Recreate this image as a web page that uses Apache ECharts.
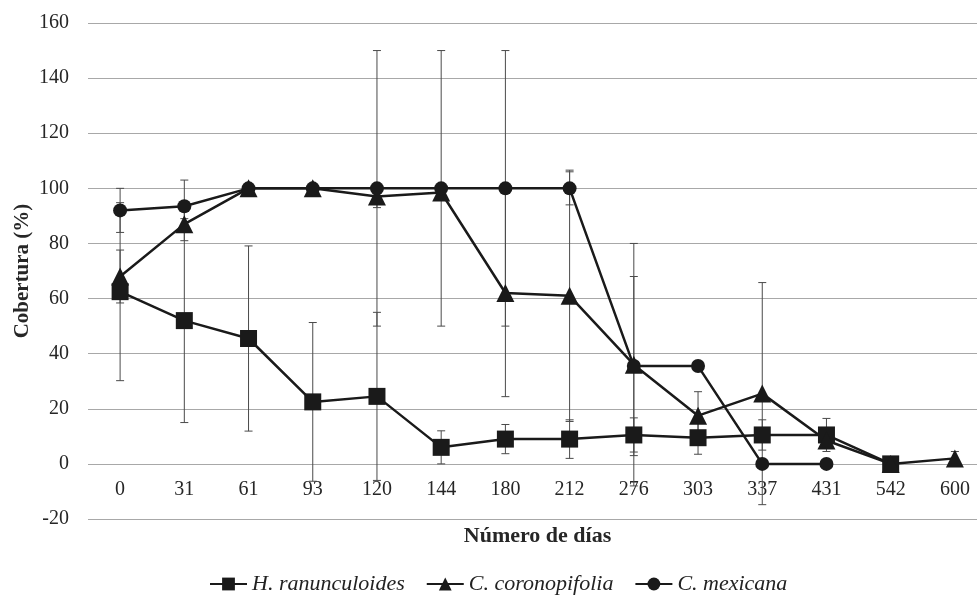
<!DOCTYPE html>
<html>
<head>
<meta charset="utf-8">
<script src="https://cdn.jsdelivr.net/npm/echarts@6/dist/echarts.min.js"></script>
<style>
html,body{margin:0;padding:0;background:#fff;}
#chart{width:977px;height:597px;}
</style>
</head>
<body>
<div id="chart"></div>
<script>
const days = ['0','31','61','93','120','144','180','212','276','303','337','431','542','600'];

const hName = 'H. ranunculoides';
const hMean = [62.5, 52, 45.5, 22.5, 24.5, 6, 9, 9, 10.5, 9.5, 10.5, 10.5, 0, null];
const hErr  = [32.3, 37, 33.6, 28.8, 30.5, 6, 5.3, 7, 6.2, 6, 5.5, 6, 0, null];

const cName = 'C. coronopifolia';
const cMean = [68, 87, 100, 100, 97, 98.5, 62, 61, 36, 17.5, 25.5, 8.5, 0, 2];
const cErr  = [9.6, 6, 0, 0, 4, 0, 37.6, 45.6, 44, 8.7, 40.3, 0, 0, 2.5];

const mName = 'C. mexicana';
const mMean = [92, 93.5, 100, 100, 100, 100, 100, 100, 35.5, 35.5, 0, 0, null, null];
const mErr  = [8, 9.5, 0, 0, 50, 50, 50, 6, 32.5, 0, 0, 0, null, null];

const yMin = -20, yMax = 160, yStep = 20;

const FONT = '"Liberation Serif", "Times New Roman", serif';
const INK = '#1a1a1a';

function errData(means, errs) {
  const out = [];
  means.forEach((m, i) => {
    if (m == null || errs[i] == null || errs[i] === 0) return;
    out.push([i, m - errs[i], m + errs[i]]);
  });
  return out;
}

function errSeries(means, errs) {
  return {
    type: 'custom',
    name: 'err',
    z: 1,
    silent: true,
    encode: { x: 0, y: [1, 2] },
    data: errData(means, errs),
    renderItem: function (params, api) {
      const x = api.value(0);
      const lo = api.coord([x, api.value(1)]);
      const hi = api.coord([x, api.value(2)]);
      const w = 4;
      const st = { stroke: '#4a4a4a', lineWidth: 1 };
      return {
        type: 'group',
        children: [
          { type: 'line', shape: { x1: lo[0], y1: lo[1], x2: hi[0], y2: hi[1] }, style: st },
          { type: 'line', shape: { x1: lo[0] - w, y1: lo[1], x2: lo[0] + w, y2: lo[1] }, style: st },
          { type: 'line', shape: { x1: hi[0] - w, y1: hi[1], x2: hi[0] + w, y2: hi[1] }, style: st }
        ]
      };
    }
  };
}

function lineSeries(name, means, symbol, size) {
  return {
    type: 'line',
    name: name,
    z: 3,
    data: means,
    connectNulls: false,
    symbol: symbol,
    symbolSize: size,
    showAllSymbol: true,
    lineStyle: { color: INK, width: 2.5 },
    itemStyle: { color: INK, borderWidth: 0 },
    emphasis: { disabled: true },
    animation: false
  };
}

const chart = echarts.init(document.getElementById('chart'), null, { renderer: 'canvas' });
chart.setOption({
  animation: false,
  backgroundColor: '#ffffff',
  grid: { left: 88, top: 23, width: 899, height: 496, containLabel: false, outerBoundsMode: 'none' },
  legend: {
    data: [hName, cName, mName],
    top: 573,
    left: 209,
    padding: 0,
    itemWidth: 37,
    itemHeight: 16,
    itemGap: 21,
    textStyle: { fontFamily: FONT, fontStyle: 'italic', fontSize: 22, color: '#222' }
  },
  xAxis: {
    type: 'category',
    data: days,
    boundaryGap: true,
    axisLine: { show: false },
    axisTick: { show: false },
    axisLabel: { margin: -39, fontFamily: FONT, fontSize: 20, color: '#262626' },
    splitLine: { show: false },
    name: 'Número de días',
    nameLocation: 'middle',
    nameGap: 6,
    nameMoveOverlap: false,
    nameTextStyle: { fontFamily: FONT, fontWeight: 'bold', fontSize: 22, color: '#262626' }
  },
  yAxis: {
    type: 'value',
    min: yMin,
    max: yMax,
    interval: yStep,
    axisLine: { show: false },
    axisTick: { show: false },
    axisLabel: { margin: 19, fontFamily: FONT, fontSize: 20, color: '#262626' },
    splitLine: { lineStyle: { color: '#a8a8a8', width: 1 } },
    name: 'Cobertura (%)',
    nameLocation: 'middle',
    nameGap: 55,
    nameMoveOverlap: false,
    nameTextStyle: { fontFamily: FONT, fontWeight: 'bold', fontSize: 21, color: '#262626' }
  },
  series: [
    errSeries(hMean, hErr),
    errSeries(cMean, cErr),
    errSeries(mMean, mErr),
    lineSeries(hName, hMean, 'rect', 17),
    lineSeries(cName, cMean, 'triangle', 18),
    lineSeries(mName, mMean, 'circle', 14)
  ]
});
</script>
</body>
</html>
